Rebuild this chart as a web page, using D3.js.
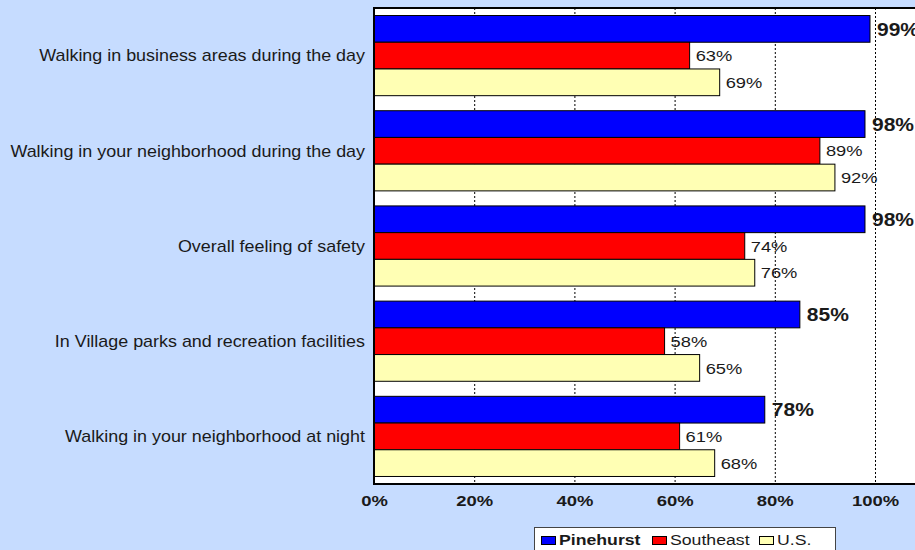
<!DOCTYPE html>
<html><head><meta charset="utf-8">
<script src="https://cdn.jsdelivr.net/npm/d3@7"></script>
<style>body{margin:0;background:#C6DCFF;overflow:hidden}svg{display:block}</style>
</head><body>
<script>
const categories = ["Walking in business areas during the day","Walking in your neighborhood during the day","Overall feeling of safety","In Village parks and recreation facilities","Walking in your neighborhood at night"];
const seriesNames = ["Pinehurst","Southeast","U.S."];
const pinehurst = [99,98,98,85,78];
const southeast = [63,89,74,58,61];
const us = [69,92,76,65,68];
const ticks = [0,20,40,60,80,100];
const colors = ["#0000FF","#FF0000","#FFFFB4"];

(function(){
const W=915,H=550, FF="Liberation Sans, Arial, sans-serif";
const svg=d3.select("body").append("svg").attr("width",W).attr("height",H);
svg.append("rect").attr("width",W).attr("height",H).attr("fill","#C6DCFF");
const pLeft=374, pTop=8, pBottom=484, rightFrame=930;
const x=d3.scaleLinear().domain([0,100]).range([pLeft,875]);
const y=d3.scaleBand().domain(categories).range([pTop,pBottom]).paddingInner(0.158).paddingOuter(0.079);
const ys=d3.scaleBand().domain(seriesNames).range([0,y.bandwidth()]);
function txt(parent,tx,ty,s,size,bold,sx,anchor){
  return parent.append("text").attr("transform",`translate(${tx},${ty}) scale(${sx},1)`)
   .attr("font-family",FF).attr("font-size",size).attr("font-weight",bold?"bold":"normal")
   .attr("text-anchor",anchor||"start").attr("fill","#1a1a1a").text(s);
}
svg.append("rect").attr("x",pLeft).attr("y",pTop).attr("width",rightFrame-pLeft).attr("height",pBottom-pTop).attr("fill","#fff");
// gridlines
svg.append("g").selectAll("line").data(ticks.slice(1)).join("line")
 .attr("x1",d=>x(d)+0.5).attr("x2",d=>x(d)+0.5).attr("y1",pTop).attr("y2",pBottom)
 .attr("stroke","#000").attr("stroke-width",1).attr("stroke-dasharray","2,2");
const data=[pinehurst,southeast,us];
const g=svg.append("g");
categories.forEach((c,i)=>{
  seriesNames.forEach((s,j)=>{
    const v=data[j][i];
    g.append("rect").attr("x",x(0)).attr("y",y(c)+ys(s)).attr("width",x(v)-x(0)).attr("height",ys.bandwidth())
     .attr("fill",colors[j]).attr("stroke","#000").attr("stroke-width",1);
    txt(g,x(v)+(j==0?7:6),y(c)+ys(s)+ys.bandwidth()/2,v+"%",j==0?18.6:15.5,j==0,j==0?1.13:1.18).attr("dy","0.36em");
  });
  txt(svg,365,y(c)+y.bandwidth()/2,c,16,false,1.12,"end").attr("dy","0.36em");
});
// frame
svg.append("rect").attr("x",pLeft).attr("y",pTop).attr("width",rightFrame-pLeft).attr("height",pBottom-pTop).attr("fill","none").attr("stroke","#000").attr("stroke-width",2);
// x axis
const ax=svg.append("g").attr("transform",`translate(0,${pBottom})`).call(d3.axisBottom(x).tickValues(ticks).tickSize(0).tickFormat(d=>d+"%"));
ax.select(".domain").remove();
ax.selectAll("text").attr("font-family",FF).attr("font-size",14.2).attr("font-weight","bold").attr("fill","#1a1a1a")
  .attr("dy",null).attr("y",null).attr("transform","translate(0,21.5) scale(1.3,1)");
// legend
const lg=svg.append("g");
lg.append("rect").attr("x",534.5).attr("y",527.5).attr("width",301).attr("height",40).attr("fill","#fff").attr("stroke","#444");
const lx=[541,652,759];
seriesNames.forEach((s,j)=>{
  lg.append("rect").attr("x",lx[j]+0.5).attr("y",536.5).attr("width",14).attr("height",8).attr("fill",colors[j]).attr("stroke","#000");
  txt(lg,lx[j]+18,544.5,s,14.5,j==0,1.22);
});
})();
</script>
</body></html>
